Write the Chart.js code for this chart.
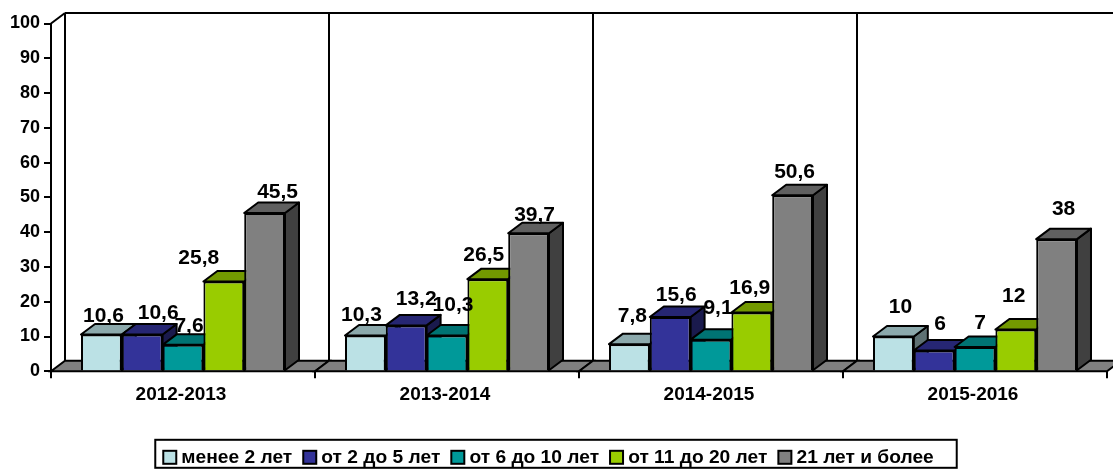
<!DOCTYPE html>
<html>
<head>
<meta charset="utf-8">
<title>Стаж</title>
<script src="https://cdn.jsdelivr.net/npm/chart.js@4/dist/chart.umd.min.js"></script>
<style>
    html, body { margin: 0; padding: 0; background: #fff; }
    canvas { display: block; }
</style>
</head>
<body>
<canvas id="stazhChart" width="1113" height="472"></canvas>
<script>
const categories = ['2012-2013', '2013-2014', '2014-2015', '2015-2016'];
const seriesNames = ['менее 2 лет', 'от 2 до 5 лет', 'от 6 до 10 лет', 'от 11 до 20 лет', '21 лет и более'];

const lessThan2 = [10.6, 10.3, 7.8, 10];
const from2to5 = [10.6, 13.2, 15.6, 6];
const from6to10 = [7.6, 10.3, 9.1, 7];
const from11to20 = [25.8, 26.5, 16.9, 12];
const over21 = [45.5, 39.7, 50.6, 38];
const seriesValues = [lessThan2, from2to5, from6to10, from11to20, over21];

const yTicks = [0, 10, 20, 30, 40, 50, 60, 70, 80, 90, 100];

const frontColors = ['#BBE1E5', '#333399', '#009999', '#99CC00', '#808080'];
const topColors = ['#8CA9AC', '#262673', '#007373', '#739900', '#606060'];
const sideColors = ['#5E7173', '#1A1A4D', '#004D4D', '#4D6600', '#404040'];

// Hand placed data labels, offset from the top centre of the bar (series by category)
const labelShiftX = [[2, -4, 3, 7], [16, 10, 6, 6], [6, 6, 7, 5], [-25, -4, -2, -2], [13, 6, 2, 7]];
const labelShiftY = [[-18, -20, -28, -29], [-21, -26, -22, -26], [-19, -30, -31, -24], [-23, -24, -24, -33], [-21, -18, -23, -30]];

const DEPTH_X = 14;
const DEPTH_Y = 10.5;
const FONT = '"Liberation Sans", Arial, sans-serif';

function polygon(ctx, points, fill) {
    ctx.beginPath();
    points.forEach((p, i) => i ? ctx.lineTo(p[0], p[1]) : ctx.moveTo(p[0], p[1]));
    ctx.closePath();
    if (fill) {
        ctx.fillStyle = fill;
        ctx.fill();
    }
    ctx.stroke();
}

function line(ctx, x1, y1, x2, y2) {
    ctx.beginPath();
    ctx.moveTo(x1, y1);
    ctx.lineTo(x2, y2);
    ctx.stroke();
}

// Back wall and floor of the fake 3D box
function drawWalls(chart) {
    const ctx = chart.ctx;
    const area = chart.chartArea;
    const step = (area.right - area.left) / categories.length;
    ctx.save();
    ctx.strokeStyle = '#000';
    ctx.lineWidth = 2;
    line(ctx, area.left, area.top, area.left + DEPTH_X, area.top - DEPTH_Y);
    line(ctx, area.left + DEPTH_X, area.top - DEPTH_Y, chart.width, area.top - DEPTH_Y);
    for (let i = 0; i <= categories.length; i++) {
        const x = area.left + step * i;
        line(ctx, x + DEPTH_X, area.top - DEPTH_Y, x + DEPTH_X, area.bottom - DEPTH_Y);
        if (i < categories.length) {
            polygon(ctx, [
                [x, area.bottom],
                [x + DEPTH_X, area.bottom - DEPTH_Y],
                [x + step + DEPTH_X, area.bottom - DEPTH_Y],
                [x + step, area.bottom]
            ], '#808080');
        }
    }
    ctx.restore();
}

function drawBarDepth(chart, meta, seriesIndex) {
    const ctx = chart.ctx;
    ctx.save();
    ctx.strokeStyle = '#000';
    ctx.lineWidth = 2;
    ctx.lineJoin = 'round';
    meta.data.forEach(bar => {
        const left = bar.x - bar.width / 2;
        const right = bar.x + bar.width / 2;
        polygon(ctx, [
            [right, bar.y],
            [right + DEPTH_X, bar.y - DEPTH_Y],
            [right + DEPTH_X, bar.base - DEPTH_Y],
            [right, bar.base]
        ], sideColors[seriesIndex]);
        polygon(ctx, [
            [left, bar.y],
            [left + DEPTH_X, bar.y - DEPTH_Y],
            [right + DEPTH_X, bar.y - DEPTH_Y],
            [right, bar.y]
        ], topColors[seriesIndex]);
    });
    ctx.restore();
}

function drawValueLabels(chart) {
    const ctx = chart.ctx;
    ctx.save();
    ctx.font = 'bold 21px ' + FONT;
    ctx.fillStyle = '#000';
    ctx.textAlign = 'center';
    ctx.textBaseline = 'middle';
    seriesValues.forEach((values, s) => {
        const meta = chart.getDatasetMeta(s);
        values.forEach((value, c) => {
            const bar = meta.data[c];
            const text = String(value).replace('.', ',');
            ctx.fillText(text, bar.x + labelShiftX[s][c], bar.y + labelShiftY[s][c]);
        });
    });
    ctx.restore();
}

const box3dPlugin = {
    id: 'box3d',
    beforeDatasetsDraw(chart) {
        drawWalls(chart);
        // Paint left to right so every bar covers the side of the one before it
        seriesValues.forEach((values, s) => {
            const meta = chart.getDatasetMeta(s);
            drawBarDepth(chart, meta, s);
            meta.controller.draw();
        });
        drawValueLabels(chart);
        return false;
    },
    afterDraw(chart) {
        // Frame round the legend and the swatches, which sit closer to the text than the legend allows
        const boxes = chart.legend.legendHitBoxes;
        const last = boxes[boxes.length - 1];
        const left = boxes[0].left - 8;
        const right = last.left + last.width + 23;
        const ctx = chart.ctx;
        ctx.save();
        ctx.strokeStyle = '#000';
        ctx.lineWidth = 2;
        ctx.strokeRect(left, last.top - 8, right - left, 28);
        boxes.forEach((b, i) => {
            ctx.fillStyle = frontColors[i];
            ctx.fillRect(b.left, b.top + 3, 13, 13);
            ctx.strokeRect(b.left, b.top + 3, 13, 13);
        });
        ctx.restore();
    }
};

new Chart(document.getElementById('stazhChart'), {
    type: 'bar',
    data: {
        labels: categories,
        datasets: seriesNames.map((name, i) => ({
            label: name,
            data: seriesValues[i],
            backgroundColor: frontColors[i],
            borderColor: '#000',
            borderWidth: 2,
            inflateAmount: 0,
            categoryPercentage: 0.7727,
            barPercentage: 1
        }))
    },
    plugins: [box3dPlugin],
    options: {
        responsive: false,
        animation: false,
        layout: { padding: { left: -10, right: 6, top: 23.5, bottom: -5 } },
        scales: {
            x: {
                afterFit(scale) { scale.height = 65.5; },
                border: { color: '#000', width: 2 },
                grid: { drawOnChartArea: false, color: '#000', lineWidth: 2, tickLength: 7, tickColor: '#000' },
                ticks: {
                    color: '#000',
                    padding: 5,
                    labelOffset: -2,
                    maxRotation: 0,
                    font: { family: FONT, size: 19, weight: 'bold' }
                }
            },
            y: {
                min: 0,
                max: 100,
                afterFit(scale) { scale.width = 61; },
                afterBuildTicks(scale) { scale.ticks = yTicks.map(v => ({ value: v })); },
                border: { color: '#000', width: 2 },
                grid: { drawOnChartArea: false, color: '#000', lineWidth: 2, tickLength: 7, tickColor: '#000' },
                ticks: {
                    color: '#000',
                    padding: 4,
                    font: { family: FONT, size: 18, weight: 'bold' }
                }
            }
        },
        plugins: {
            tooltip: { enabled: false },
            legend: {
                position: 'bottom',
                labels: {
                    color: '#000',
                    boxWidth: 8.5,
                    boxHeight: 12,
                    padding: 11,
                    font: { family: FONT, size: 19.2, weight: 'bold' },
                    generateLabels(chart) {
                        return seriesNames.map((name, i) => ({
                            text: name,
                            datasetIndex: i,
                            fillStyle: 'transparent',
                            strokeStyle: 'transparent',
                            lineWidth: 0
                        }));
                    }
                }
            }
        }
    }
});
</script>
</body>
</html>
